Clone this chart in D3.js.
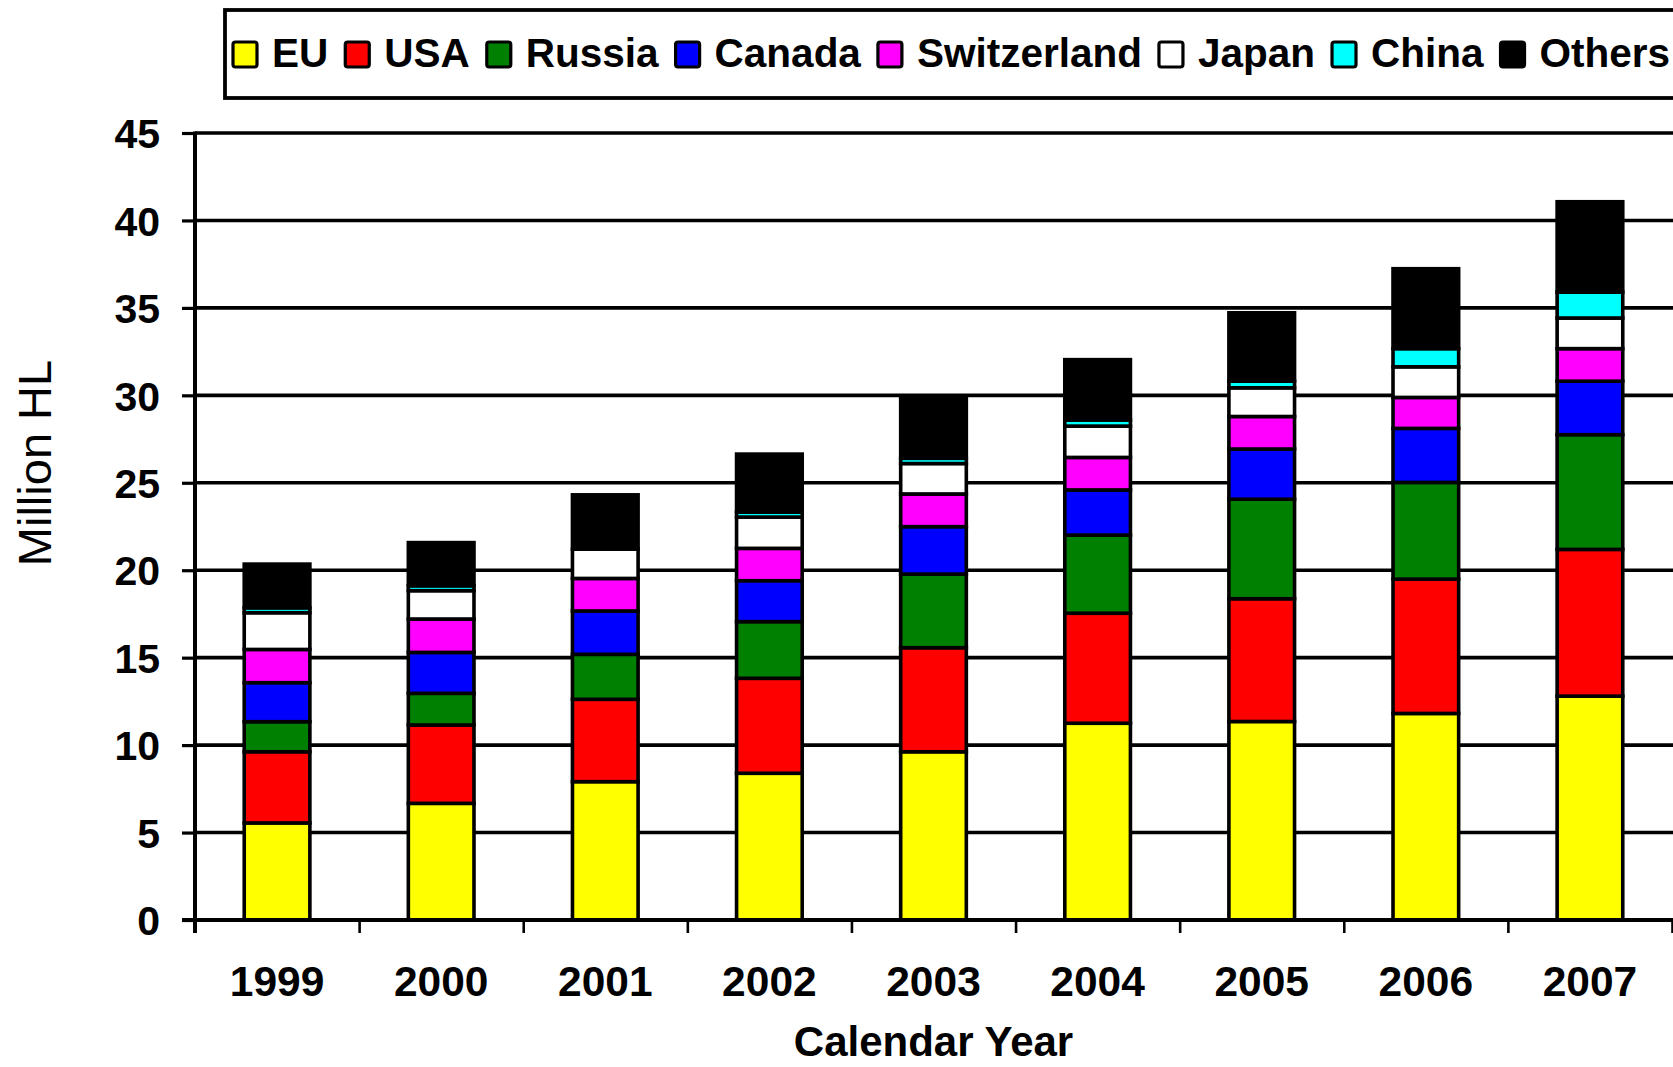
<!DOCTYPE html>
<html>
<head>
<meta charset="utf-8">
<script src="https://cdn.jsdelivr.net/npm/d3@7"></script>
<style>
  html, body { margin: 0; padding: 0; background: #fff; }
  svg { display: block; }
  text { font-family: "Liberation Sans", Arial, sans-serif; }
</style>
</head>
<body>
<script>
// ---- data (Million HL) ----
const years = ["1999", "2000", "2001", "2002", "2003", "2004", "2005", "2006", "2007"];
const seriesNames = ["EU", "USA", "Russia", "Canada", "Switzerland", "Japan", "China", "Others"];
const seriesColors = ["#ffff00", "#ff0000", "#008000", "#0000ff", "#ff00ff", "#ffffff", "#00ffff", "#000000"];
const eu          = [5.55, 6.67, 7.91, 8.39, 9.62, 11.25, 11.35, 11.81, 12.80];
const usa         = [4.07, 4.48, 4.71, 5.43, 5.95, 6.29, 7.02, 7.68, 8.39];
const russia      = [1.72, 1.81, 2.57, 3.24, 4.21, 4.47, 5.69, 5.53, 6.56];
const canada      = [2.23, 2.34, 2.48, 2.34, 2.71, 2.58, 2.87, 3.09, 3.06];
const switzerland = [1.90, 1.91, 1.86, 1.85, 1.87, 1.86, 1.86, 1.77, 1.86];
const japan       = [2.10, 1.62, 1.68, 1.79, 1.74, 1.79, 1.64, 1.75, 1.75];
const china       = [0.28, 0.28, 0.00, 0.28, 0.30, 0.35, 0.38, 1.04, 1.48];
const others      = [2.50, 2.47, 3.10, 3.32, 3.50, 3.45, 3.91, 4.57, 5.17];
const yTicks = [0, 5, 10, 15, 20, 25, 30, 35, 40, 45];
const xTitle = "Calendar Year";
const yTitle = "Million HL";

const seriesValues = [eu, usa, russia, canada, switzerland, japan, china, others];
const rows = years.map((yr, i) => {
  const r = { year: yr };
  seriesNames.forEach((n, k) => r[n] = seriesValues[k][i]);
  return r;
});

// ---- layout ----
const W = 1673, H = 1067;
const pLeft = 195, pRight = 1672, pTop = 133, pBottom = 920;

const svg = d3.select("body").append("svg")
  .attr("width", W).attr("height", H);
svg.append("rect").attr("width", W).attr("height", H).attr("fill", "#fff");

const x = d3.scaleBand().domain(years).range([pLeft, pRight])
  .paddingInner(0.6).paddingOuter(0.3);
const y = d3.scaleLinear().domain([0, 45]).range([pBottom, pTop]);
const color = d3.scaleOrdinal().domain(seriesNames).range(seriesColors);

// gridlines
svg.append("g").selectAll("line").data(yTicks.filter(d => d > 0)).join("line")
  .attr("x1", pLeft).attr("x2", W + 5)
  .attr("y1", d => y(d)).attr("y2", d => y(d))
  .attr("stroke", "#000").attr("stroke-width", 3.6);

// y axis
const yAxis = svg.append("g").attr("transform", `translate(${pLeft},0)`)
  .call(d3.axisLeft(y).tickValues(yTicks).tickSize(13).tickPadding(22));
yAxis.select(".domain").remove();
yAxis.selectAll(".tick line").attr("stroke", "#000").attr("stroke-width", 3.2);
yAxis.selectAll(".tick text")
  .attr("font-family", "'Liberation Sans', Arial, sans-serif")
  .attr("font-size", 41).attr("font-weight", "bold").attr("fill", "#000")
  .attr("dy", "0.36em");

// x boundary ticks
const xb = d3.scaleLinear().domain([0, years.length]).range([pLeft, pRight]);
const xTickAxis = svg.append("g").attr("transform", `translate(0,${pBottom})`)
  .call(d3.axisBottom(xb).tickValues(d3.range(0, years.length + 1)).tickSize(13).tickFormat(""));
xTickAxis.select(".domain").remove();
xTickAxis.selectAll(".tick line").attr("stroke", "#000").attr("stroke-width", 2.6);

// x labels
const xAxis = svg.append("g").attr("transform", `translate(0,${pBottom})`)
  .call(d3.axisBottom(x).tickSize(0));
xAxis.select(".domain").remove();
xAxis.selectAll(".tick text")
  .attr("font-family", "'Liberation Sans', Arial, sans-serif")
  .attr("font-size", 42.5).attr("font-weight", "bold").attr("fill", "#000")
  .attr("y", 76).attr("dy", 0);

// bars
const stacked = d3.stack().keys(seriesNames)(rows);
svg.append("g").selectAll("g").data(stacked).join("g")
  .attr("fill", d => color(d.key))
  .selectAll("rect").data(d => d).join("rect")
  .attr("x", d => x(d.data.year))
  .attr("width", x.bandwidth())
  .attr("y", d => y(d[1]))
  .attr("height", d => y(d[0]) - y(d[1]))
  .attr("stroke", "#000").attr("stroke-width", 3.6);

// axis lines
svg.append("line").attr("x1", pLeft).attr("x2", pLeft).attr("y1", pTop - 1.5).attr("y2", pBottom + 13)
  .attr("stroke", "#000").attr("stroke-width", 4);
svg.append("line").attr("x1", pLeft - 13).attr("x2", W + 5).attr("y1", pBottom).attr("y2", pBottom)
  .attr("stroke", "#000").attr("stroke-width", 4);

// axis titles
svg.append("text").attr("x", (pLeft + pRight) / 2).attr("y", 1056)
  .attr("text-anchor", "middle").attr("font-size", 42).attr("font-weight", "bold")
  .attr("fill", "#000").text(xTitle);
svg.append("text").attr("transform", "translate(51,463) rotate(-90)")
  .attr("text-anchor", "middle").attr("font-size", 47).attr("fill", "#000").text(yTitle);

// legend
const lg = svg.append("g");
lg.append("rect").attr("x", 225).attr("y", 10).attr("width", 1500).attr("height", 88)
  .attr("fill", "#fff").attr("stroke", "#000").attr("stroke-width", 3.8);
let lx = 233;
seriesNames.forEach((n, k) => {
  lg.append("rect").attr("x", lx).attr("y", 42).attr("width", 24).attr("height", 25)
    .attr("rx", 2.5).attr("fill", seriesColors[k]).attr("stroke", "#000").attr("stroke-width", 3.2);
  const t = lg.append("text").attr("x", lx + 39).attr("y", 67)
    .attr("font-size", 40.5).attr("font-weight", "bold").attr("fill", "#000").text(n);
  lx = lx + 39 + t.node().getComputedTextLength() + 17;
});
</script>
</body>
</html>
